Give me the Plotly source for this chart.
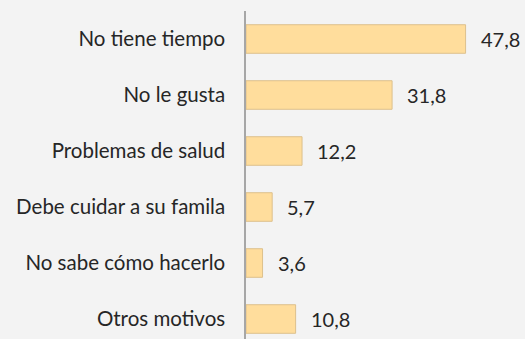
import plotly.graph_objects as go

# Motivos por los que no realiza actividad física (%)
categorias = [
    "No tiene tiempo",
    "No le gusta",
    "Problemas de salud",
    "Debe cuidar a su famila",
    "No sabe cómo hacerlo",
    "Otros motivos",
]
valores = [47.8, 31.8, 12.2, 5.7, 3.6, 10.8]
etiquetas = [f"{v:.1f}".replace(".", ",") for v in valores]

FONT = "Lato"
TEXT_COLOR = "#262626"

fig = go.Figure(
    go.Bar(
        x=valores,
        y=categorias,
        orientation="h",
        width=0.51,
        marker=dict(color="#FFDD9C", line=dict(color="#DDC08C", width=1)),
        hoverinfo="skip",
    )
)

for cat, v, lab in zip(categorias, valores, etiquetas):
    fig.add_annotation(
        x=v, y=cat, text=lab, showarrow=False,
        xanchor="left", yanchor="middle", xshift=13,
        font=dict(family=FONT, size=20, color=TEXT_COLOR),
    )

fig.update_layout(
    width=525,
    height=339,
    margin=dict(l=246, r=2, t=11, b=0),
    paper_bgcolor="#F3F3F3",
    plot_bgcolor="#F3F3F3",
    showlegend=False,
    xaxis=dict(
        range=[0, 60.3],
        visible=False,
        showgrid=False,
        zeroline=False,
    ),
    yaxis=dict(
        categoryorder="array",
        categoryarray=categorias,
        range=[5.357, -0.5],
        showgrid=False,
        zeroline=False,
        showline=True,
        linecolor="#A6A6A6",
        linewidth=1.5,
        ticks="",
        ticklabelstandoff=15,
        tickfont=dict(family=FONT, size=20.5, color=TEXT_COLOR),
    ),
)

fig.write_html("out.html")
